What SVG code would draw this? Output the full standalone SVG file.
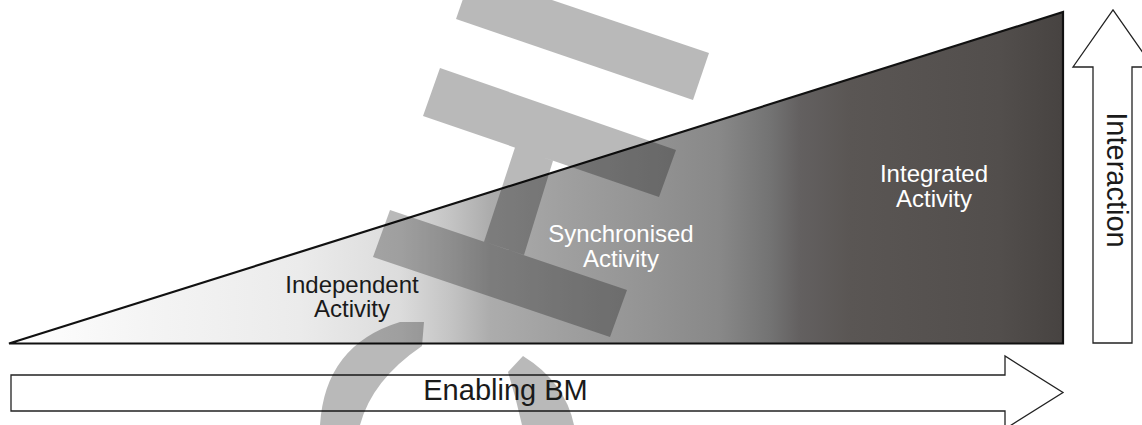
<svg xmlns="http://www.w3.org/2000/svg" width="1142" height="425" viewBox="0 0 1142 425">
  <defs>
    <linearGradient id="ramp" gradientUnits="userSpaceOnUse" x1="10" y1="0" x2="1063" y2="0">
      <stop offset="0" stop-color="#ffffff"/>
      <stop offset="0.133" stop-color="#f4f4f4"/>
      <stop offset="0.275" stop-color="#ebebeb"/>
      <stop offset="0.37" stop-color="#dcdcdc"/>
      <stop offset="0.418" stop-color="#c4c4c4"/>
      <stop offset="0.456" stop-color="#acacac"/>
      <stop offset="0.522" stop-color="#a0a0a0"/>
      <stop offset="0.608" stop-color="#939393"/>
      <stop offset="0.674" stop-color="#888888"/>
      <stop offset="0.722" stop-color="#737373"/>
      <stop offset="0.75" stop-color="#636060"/>
      <stop offset="0.798" stop-color="#5a5654"/>
      <stop offset="0.94" stop-color="#524e4c"/>
      <stop offset="1" stop-color="#474341"/>
    </linearGradient>
  </defs>
  <style>
    .lbl { font-family: "Liberation Sans", Arial, sans-serif; font-size: 24px; text-anchor: middle; }
    .dark { fill: #1a1a1a; }
    .light { fill: #ffffff; }
    .axis { fill: #ffffff; stroke: #222222; stroke-width: 1.3; stroke-linejoin: miter; }
    .axislbl { font-family: "Liberation Sans", Arial, sans-serif; font-size: 29px; fill: #1a1a1a; text-anchor: middle; }
  </style>
  <rect width="1142" height="425" fill="#ffffff"/>

  <g id="connectors">
    <g id="axis-enabling">
      <polygon class="axis" points="11,375 1005,375 1005,356 1063,392.5 1005,429 1005,411 11,411"/>
    </g>
    <g id="axis-interaction">
      <polygon class="axis" points="1093,343 1093,67 1073,67 1113,10 1153,67 1132,67 1132,343"/>
    </g>
  </g>

  <g id="activity-wedge">
    <polygon points="9,343.5 1063,12 1063,343.5" fill="url(#ramp)" stroke="#111111" stroke-width="2.2" stroke-linejoin="miter"/>
  </g>

  <g id="watermark" fill="#000000" opacity="0.27">
    <polygon points="472,-27 709,53 693,100 456,19"/>
    <path d="M440,68 L676,150 L659,197 L423,116 Z M515,147.6 L553,160.8 L524,255 L484,241.7 Z M390,210 L627,290 L610,337 L373,257 Z"/>
    <path d="M400,322 L424,322 L422,346 Q372,380 360,425 L320,425 Q325,345 400,322 Z"/>
    <path d="M523,356 L508,372 Q516,398 522,425 L574,425 Q565,382 523,356 Z"/>
  </g>

  <g id="node-independent">
    <text class="lbl dark" x="352" y="292.5">Independent</text>
    <text class="lbl dark" x="352" y="317">Activity</text>
  </g>
  <g id="node-synchronised">
    <text class="lbl light" x="621" y="242">Synchronised</text>
    <text class="lbl light" x="621" y="267">Activity</text>
  </g>
  <g id="node-integrated">
    <text class="lbl light" x="934" y="182">Integrated</text>
    <text class="lbl light" x="934" y="207">Activity</text>
  </g>
  <g id="label-enabling">
    <text class="axislbl" x="505.5" y="400">Enabling BM</text>
  </g>
  <g id="label-interaction">
    <text class="axislbl" x="0" y="0" transform="translate(1107,180) rotate(90)">Interaction</text>
  </g>
</svg>
